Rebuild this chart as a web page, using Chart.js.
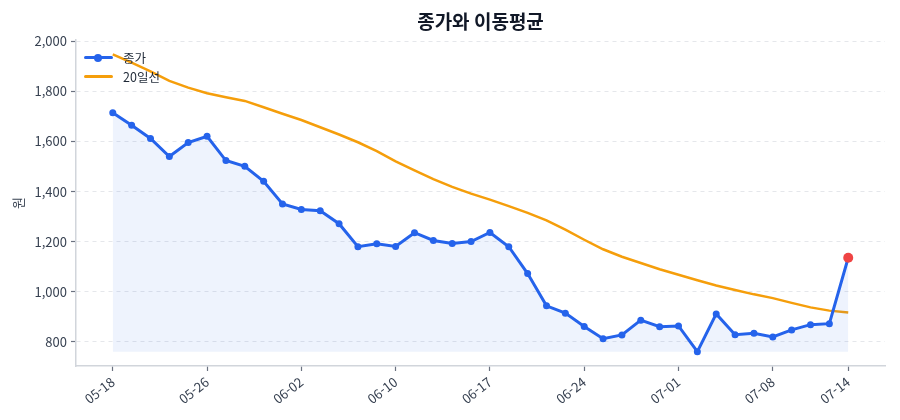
<!DOCTYPE html>
<html lang="ko">
<head>
<meta charset="utf-8">
<script src="https://cdn.jsdelivr.net/npm/chart.js@4/dist/chart.umd.min.js"></script>
<style>
  body { margin: 0; background: #fff; }
  #wrap { position: relative; width: 900px; height: 420px; }
  #legend { position: absolute; left: 84px; top: 48px; font: 12.5px "Noto Sans CJK KR", "Noto Sans", sans-serif; color: #1f2937; }
  .item { display: flex; align-items: center; height: 19px; }
  .swatch { position: relative; width: 29px; height: 3px; margin-right: 10px; border-radius: 2px; }
  .dot { position: absolute; left: 10px; top: -2.5px; width: 8px; height: 8px; border-radius: 50%; }
</style>
</head>
<body>
<div id="wrap">
  <canvas id="chart" width="900" height="420"></canvas>
  <div id="legend">
    <div class="item"><span class="swatch" style="background:#2563eb"><span class="dot" style="background:#2563eb"></span></span>종가</div>
    <div class="item"><span class="swatch" style="background:#f59e0b"></span>20일선</div>
  </div>
</div>
<script>
const dates = ['05-18','05-19','05-20','05-21','05-22','05-26','05-27','05-28','05-29','06-01',
               '06-02','06-03','06-04','06-05','06-08','06-10','06-11','06-12','06-15','06-16',
               '06-17','06-18','06-19','06-22','06-23','06-24','06-25','06-26','06-29','06-30',
               '07-01','07-02','07-03','07-06','07-07','07-08','07-09','07-10','07-13','07-14'];
const closePrice = [1715, 1665, 1612, 1540, 1596, 1621, 1524, 1501, 1441, 1351,
                    1329, 1324, 1272, 1180, 1192, 1181, 1236, 1205, 1193, 1201,
                    1237, 1180, 1073, 944, 915, 862, 813, 828, 887, 861,
                    864, 761, 912, 829, 835, 820, 848, 869, 873, 1136];
const ma20 = [1948, 1915, 1880, 1842, 1815, 1793, 1777, 1762, 1737, 1711,
              1686, 1657, 1628, 1597, 1562, 1521, 1485, 1450, 1419, 1392,
              1368, 1342, 1315, 1285, 1248, 1208, 1170, 1140, 1115, 1090,
              1068, 1046, 1025, 1007, 990, 975, 956, 938, 925, 918];
const xTickLabels = ['05-18','05-26','06-02','06-10','06-17','06-24','07-01','07-08','07-14'];
const yTicks = [800, 1000, 1200, 1400, 1600, 1800, 2000];

const font = '"Noto Sans CJK KR", "Noto Sans", sans-serif';
const lastIdx = closePrice.length - 1;

new Chart(document.getElementById('chart'), {
  type: 'line',
  data: {
    datasets: [
      {
        label: '종가',
        data: closePrice.map((v, i) => ({ x: i, y: v })),
        borderColor: '#2563eb',
        borderWidth: 3,
        pointRadius: ctx => ctx.dataIndex === lastIdx ? 5 : 3.5,
        pointBackgroundColor: ctx => ctx.dataIndex === lastIdx ? '#ef4444' : '#2563eb',
        pointBorderWidth: 0,
        fill: { value: Math.min(...closePrice) },
        backgroundColor: 'rgba(37, 99, 235, 0.08)',
        tension: 0,
        order: 1
      },
      {
        label: '20일선',
        data: ma20.map((v, i) => ({ x: i, y: v })),
        borderColor: '#f59e0b',
        borderWidth: 2.5,
        pointRadius: 0,
        fill: false,
        tension: 0,
        order: 2
      }
    ]
  },
  options: {
    responsive: false,
    animation: false,
    layout: { padding: { left: 0, right: 15, top: 0, bottom: 0 } },
    plugins: {
      legend: { display: false },
      tooltip: { enabled: false },
      title: {
        display: true,
        text: '종가와 이동평균',
        fullSize: false,
        color: '#111827',
        font: { family: font, size: 19, weight: 'bold' },
        padding: { top: 10, bottom: 7 }
      }
    },
    scales: {
      x: {
        type: 'linear',
        min: -1.95,
        max: 40.95,
        afterBuildTicks: s => { s.ticks = xTickLabels.map(d => ({ value: dates.indexOf(d) })); },
        afterFit: s => { s.height = 54; },
        ticks: {
          autoSkip: false,
          maxRotation: 38,
          minRotation: 38,
          color: '#374151',
          font: { family: font, size: 13 },
          padding: 3,
          callback: v => dates[v]
        },
        grid: { drawOnChartArea: false, drawTicks: true, tickLength: 5, tickColor: '#6b7280', tickWidth: 1.2 },
        border: { color: '#d1d5db', width: 1.5 }
      },
      y: {
        min: 704,
        max: 2006,
        afterBuildTicks: s => { s.ticks = yTicks.map(v => ({ value: v })); },
        afterFit: s => { s.width = 76; },
        ticks: {
          color: '#374151',
          font: { family: font, size: 13 },
          padding: 4,
          callback: v => v.toLocaleString('en-US')
        },
        grid: { color: '#e5e7eb', lineWidth: 1, tickLength: 5, tickColor: '#6b7280', tickWidth: 1.2 },
        border: { color: '#d1d5db', width: 1.5, dash: [4, 4] },
        title: {
          display: true,
          text: '원',
          color: '#374151',
          font: { family: font, size: 13 },
          padding: { top: 10, bottom: 0 }
        }
      }
    }
  }
});
</script>
</body>
</html>
